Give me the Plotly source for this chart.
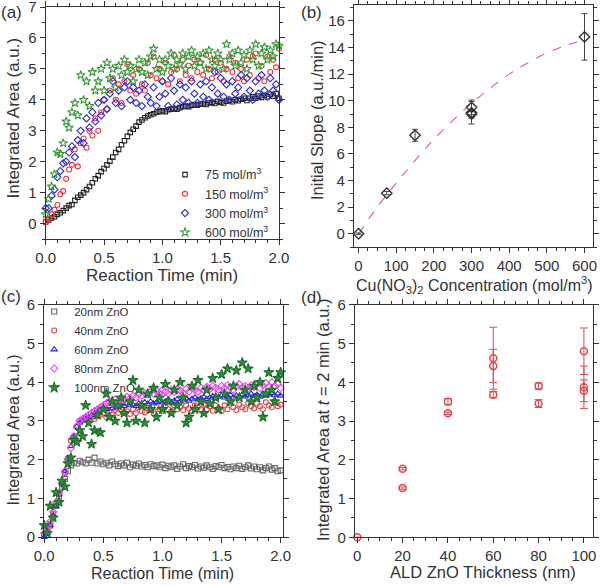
import plotly.graph_objects as go

# ---------------- data ----------------
TIME = [0.000, 0.025, 0.050, 0.075, 0.100, 0.125, 0.150, 0.175, 0.200, 0.225,
        0.250, 0.275, 0.300, 0.325, 0.350, 0.375, 0.400, 0.425, 0.450, 0.475,
        0.500, 0.525, 0.550, 0.575, 0.600, 0.625, 0.650, 0.675, 0.700, 0.725,
        0.750, 0.775, 0.800, 0.825, 0.850, 0.875, 0.900, 0.925, 0.950, 0.975,
        1.000, 1.025, 1.050, 1.075, 1.100, 1.125, 1.150, 1.175, 1.200, 1.225,
        1.250, 1.275, 1.300, 1.325, 1.350, 1.375, 1.400, 1.425, 1.450, 1.475,
        1.500, 1.525, 1.550, 1.575, 1.600, 1.625, 1.650, 1.675, 1.700, 1.725,
        1.750, 1.775, 1.800, 1.825, 1.850, 1.875, 1.900, 1.925, 1.950, 1.975,
        2.000]

# (a) concentration series
A_75 = [0.05, 0.12, 0.18, 0.22, 0.30, 0.35, 0.42, 0.50, 0.58, 0.62,
        0.75, 0.85, 0.92, 1.00, 1.10, 1.20, 1.32, 1.45, 1.55, 1.68,
        1.78, 1.90, 2.02, 2.15, 2.30, 2.40, 2.55, 2.68, 2.82, 2.95,
        3.05, 3.15, 3.28, 3.35, 3.42, 3.48, 3.52, 3.55, 3.60, 3.62,
        3.65, 3.62, 3.68, 3.70, 3.72, 3.70, 3.75, 3.78, 3.80, 3.78,
        3.82, 3.85, 3.83, 3.86, 3.88, 3.85, 3.90, 3.92, 3.88, 3.95,
        3.92, 3.90, 3.96, 3.98, 3.94, 4.00, 3.97, 4.02, 4.05, 3.98,
        4.05, 4.10, 4.05, 4.12, 4.08, 4.15, 4.10, 4.18, 4.12, 4.20,
        4.05]
A_150 = [0.05, 0.15, 0.30, 0.45, 0.60, 0.95, 1.05, 1.45, 1.75, 1.90,
         2.40, 1.85, 2.60, 2.75, 2.45, 3.00, 2.85, 3.40, 3.00, 3.60,
         4.00, 3.70, 4.30, 4.70, 4.00, 4.50, 3.90, 4.60, 5.15, 4.30,
         4.80, 4.20, 5.00, 4.50, 4.30, 5.20, 4.80, 5.40, 4.70, 5.00,
         4.60, 5.20, 4.50, 4.90, 5.45, 5.00, 4.60, 5.30, 4.80, 5.10,
         4.70, 5.30, 4.90, 5.20, 4.80, 5.45, 5.00, 4.70, 5.30, 4.90,
         5.20, 4.60, 5.00, 5.40, 4.90, 5.20, 4.70, 5.00, 4.60, 5.30,
         4.80, 5.40, 5.50, 4.70, 5.10, 4.60, 5.40, 4.90, 5.30, 5.05,
         5.65]
A_300 = [0.50, 0.50, 0.90, 1.10, 1.50, 1.70, 1.95, 2.00, 2.30, 2.50,
         2.15, 2.70, 3.00, 2.60, 3.40, 3.10, 3.60, 3.30, 3.90, 3.50,
         4.00, 3.70, 4.20, 4.60, 3.90, 4.30, 3.80, 4.40, 4.60, 4.00,
         4.40, 3.90, 4.30, 3.80, 4.50, 4.10, 3.90, 4.40, 3.80, 4.10,
         4.60, 4.20, 3.80, 4.70, 4.30, 3.85, 4.50, 4.00, 4.40, 3.90,
         4.60, 4.20, 3.90, 4.50, 4.10, 4.60, 4.00, 4.40, 4.90, 4.20,
         4.70, 4.10, 4.50, 4.00, 4.60, 4.20, 4.40, 4.80, 4.10, 4.70,
         4.30, 4.00, 4.60, 4.20, 4.80, 4.30, 4.10, 4.70, 4.30, 4.50,
         4.00]
A_600 = [0.30, 0.80, 1.20, 1.60, 2.30, 2.25, 2.60, 3.30, 3.10, 3.60,
         3.90, 3.50, 4.80, 4.00, 4.60, 3.80, 4.90, 4.30, 4.60, 5.00,
         4.30, 5.20, 4.70, 5.00, 4.40, 5.10, 4.80, 5.30, 4.90, 5.10,
         4.60, 5.00, 5.30, 4.90, 5.20, 4.80, 5.40, 5.65, 5.00, 5.30,
         4.90, 5.30, 5.10, 5.50, 5.00, 5.30, 5.15, 5.50, 5.00, 5.40,
         5.60, 5.10, 5.40, 5.20, 5.50, 5.00, 5.60, 5.30, 5.10, 5.50,
         5.30, 5.00, 5.80, 5.30, 5.50, 5.10, 5.60, 5.20, 5.45, 5.00,
         5.60, 5.30, 5.80, 5.10, 5.50, 5.70, 5.30, 5.60, 5.40, 5.80,
         5.75]
A_LABELS = ["75 mol/m<sup>3</sup>", "150 mol/m<sup>3</sup>",
            "300 mol/m<sup>3</sup>", "600 mol/m<sup>3</sup>"]

# (b) initial slope vs concentration
B_CONC = [0, 75, 150, 300, 300, 300, 600]
B_SLOPE = [0.0, 3.05, 7.4, 9.5, 9.1, 9.0, 14.8]
B_ERR = [0.05, 0.12, 0.45, 0.55, 0.85, 0.30, 1.75]
B_FIT_X = [0, 50, 100, 150, 200, 250, 300, 350, 400, 450, 500, 550, 600]
B_FIT_Y = [0.0, 2.0, 3.8, 5.5, 7.1, 8.5, 9.8, 10.95, 12.0, 12.85, 13.6, 14.15, 14.6]

# (c) ZnO thickness series
C_20 = [0.05, 0.12, 0.30, 0.55, 0.80, 1.05, 1.30, 1.50, 1.70, 1.85,
        1.92, 1.90, 1.97, 1.93, 1.90, 2.00, 1.92, 2.05, 1.90, 1.95,
        1.88, 1.92, 1.85, 1.95, 1.88, 1.83, 1.90, 1.85, 1.92, 1.80,
        1.87, 1.84, 1.90, 1.82, 1.86, 1.80, 1.88, 1.83, 1.85, 1.80,
        1.87, 1.78, 1.84, 1.80, 1.85, 1.76, 1.82, 1.88, 1.78, 1.83,
        1.80, 1.86, 1.77, 1.82, 1.79, 1.85, 1.80, 1.76, 1.83, 1.80,
        1.86, 1.78, 1.81, 1.75, 1.82, 1.78, 1.84, 1.76, 1.80, 1.85,
        1.77, 1.82, 1.75, 1.80, 1.72, 1.78, 1.82, 1.74, 1.78, 1.70,
        1.72]
C_40 = [0.05, 0.15, 0.35, 0.60, 0.85, 1.10, 1.35, 1.65, 2.00, 2.50,
        2.60, 2.85, 3.00, 3.05, 3.08, 3.02, 3.10, 3.05, 3.12, 3.15,
        3.20, 3.10, 3.25, 3.15, 3.28, 3.20, 3.30, 3.22, 3.25, 3.18,
        3.30, 3.20, 3.35, 3.25, 3.22, 3.32, 3.28, 3.20, 3.35, 3.30,
        3.25, 3.38, 3.30, 3.25, 3.40, 3.30, 3.35, 3.28, 3.40, 3.32,
        3.25, 3.40, 3.35, 3.30, 3.42, 3.30, 3.38, 3.26, 3.40, 3.32,
        3.25, 3.40, 3.30, 3.45, 3.35, 3.28, 3.42, 3.35, 3.30, 3.45,
        3.38, 3.32, 3.45, 3.38, 3.30, 3.48, 3.40, 3.35, 3.50, 3.38,
        3.42]
C_60 = [0.00, 0.10, 0.30, 0.55, 0.80, 1.10, 1.40, 1.70, 2.05, 2.35,
        2.60, 2.85, 2.95, 3.00, 3.05, 3.10, 3.15, 3.20, 3.25, 3.30,
        3.35, 3.30, 3.38, 3.32, 3.40, 3.35, 3.42, 3.38, 3.45, 3.40,
        3.42, 3.38, 3.45, 3.42, 3.48, 3.44, 3.50, 3.45, 3.48, 3.52,
        3.47, 3.50, 3.55, 3.48, 3.52, 3.56, 3.50, 3.55, 3.58, 3.52,
        3.57, 3.60, 3.55, 3.58, 3.62, 3.56, 3.60, 3.64, 3.58, 3.62,
        3.66, 3.60, 3.63, 3.67, 3.60, 3.65, 3.62, 3.68, 3.63, 3.66,
        3.70, 3.64, 3.68, 3.62, 3.70, 3.65, 3.68, 3.72, 3.66, 3.70,
        3.65]
C_80 = [0.10, 0.20, 0.40, 0.65, 0.90, 1.15, 1.40, 1.70, 2.00, 2.30,
        2.60, 2.85, 3.00, 3.05, 3.10, 3.15, 3.20, 3.25, 3.30, 3.35,
        3.40, 3.45, 3.50, 3.45, 3.55, 3.50, 3.58, 3.55, 3.62, 3.58,
        3.65, 3.60, 3.70, 3.65, 3.72, 3.68, 3.75, 3.70, 3.78, 3.72,
        3.80, 3.75, 3.70, 3.80, 3.75, 3.82, 3.78, 3.72, 3.82, 3.76,
        3.85, 3.80, 3.75, 3.85, 3.80, 3.88, 3.82, 3.90, 3.85, 3.80,
        3.90, 3.85, 3.92, 3.86, 3.80, 3.90, 3.95, 3.85, 3.90, 3.82,
        3.92, 3.88, 3.95, 3.85, 3.92, 3.98, 3.88, 4.00, 3.90, 3.95,
        3.85]
C_100 = [0.30, 0.10, 0.80, 0.50, 1.15, 0.90, 1.45, 1.30, 1.90, 2.05,
         2.50, 2.45, 2.75, 2.60, 3.40, 2.95, 2.40, 2.75, 3.15, 2.70,
         3.30, 3.70, 3.10, 3.50, 3.00, 3.40, 3.60, 3.20, 2.95, 3.50,
         4.05, 3.00, 3.80, 3.40, 2.95, 3.70, 3.30, 3.85, 3.10, 3.60,
         3.30, 3.95, 3.50, 3.20, 3.80, 3.40, 4.00, 3.60, 2.95, 3.10,
         3.90, 3.30, 4.05, 3.50, 3.20, 3.80, 3.45, 4.10, 3.60, 3.30,
         4.20, 3.70, 4.35, 3.50, 3.90, 4.30, 3.60, 4.50, 3.80, 4.35,
         3.50, 3.90, 3.60, 4.00, 3.10, 3.70, 4.25, 3.80, 3.50, 4.10,
         4.25]
C_LABELS = ["20nm ZnO", "40nm ZnO", "60nm ZnO", "80nm ZnO", "100nm ZnO"]

# (d) area at t = 2 min vs ALD thickness
D_THICK = [0, 20, 20, 40, 40, 60, 60, 60, 80, 80, 100, 100, 100]
D_AREA = [0.0, 1.77, 1.27, 3.50, 3.20, 4.62, 4.42, 3.68, 3.90, 3.45, 4.80, 3.87, 3.78]
D_ERR = [0.0, 0.03, 0.03, 0.08, 0.03, 0.80, 0.43, 0.08, 0.08, 0.10, 0.60, 0.55, 0.28]

# ---------------- style ----------------
FONT = "Liberation Sans, Arial, sans-serif"
INK = "#333333"

fig = go.Figure()

a_styles = [("square-open", "#222222", 4.5), ("circle-open", "#e8383d", 5),
            ("diamond-open", "#2a2ad8", 5.5), ("star-open", "#3a9a3a", 6.5)]
for ys, lab, (sym, col, sz) in zip([A_75, A_150, A_300, A_600], A_LABELS, a_styles):
    fig.add_trace(go.Scatter(x=TIME, y=ys, mode="markers", name=lab,
                             marker=dict(symbol=sym, color=col, size=sz, line=dict(width=1.1, color=col)),
                             xaxis="x", yaxis="y", legend="legend", cliponaxis=False))

fig.add_trace(go.Scatter(x=B_FIT_X, y=B_FIT_Y, mode="lines",
                         line=dict(color="#e06070", width=1.1, dash="dash", shape="spline"),
                         xaxis="x2", yaxis="y2", showlegend=False))
fig.add_trace(go.Scatter(x=B_CONC, y=B_SLOPE, mode="markers",
                         marker=dict(symbol="diamond-open", color="#333333", size=8, line=dict(width=1.4, color="#333333")),
                         error_y=dict(type="data", array=B_ERR, color="#444444", thickness=1, width=3),
                         xaxis="x2", yaxis="y2", showlegend=False, cliponaxis=False))

c_styles = [("square-open", "#6a6a6a", 5, "#6a6a6a"), ("circle-open", "#e0484c", 5, "#e0484c"),
            ("triangle-up-open", "#2a2ae0", 5.5, "#2a2ae0"), ("diamond-open", "#f040f0", 5.5, "#f040f0"),
            ("star", "#2f8f3a", 7.5, "#1f6f2a")]
for ys, lab, (sym, col, sz, lc) in zip([C_20, C_40, C_60, C_80, C_100], C_LABELS, c_styles):
    fig.add_trace(go.Scatter(x=TIME, y=ys, mode="markers", name=lab,
                             marker=dict(symbol=sym, color=col, size=sz, line=dict(width=1.1, color=lc)),
                             xaxis="x3", yaxis="y3", legend="legend2", cliponaxis=False))

fig.add_trace(go.Scatter(x=D_THICK, y=D_AREA, mode="markers",
                         marker=dict(symbol="circle-open", color="#e0474c", size=7, line=dict(width=1.5, color="#e0474c")),
                         error_y=dict(type="data", array=D_ERR, color="#e0474c", thickness=1, width=4),
                         xaxis="x4", yaxis="y4", showlegend=False, cliponaxis=False))


def ax(domain, rng, dtick, minor_dtick, anchor, fmt=None):
    d = dict(domain=domain, range=rng, dtick=dtick, anchor=anchor, automargin=False,
             ticklabeloverflow="allow",
             showline=True, linecolor=INK, linewidth=1.3, mirror="allticks",
             ticks="outside", ticklen=5, tickwidth=1.2, tickcolor=INK,
             showgrid=False, zeroline=False,
             tickfont=dict(family=FONT, size=15, color=INK),
             minor=dict(ticks="outside", ticklen=3, tickwidth=1, tickcolor=INK, dtick=minor_dtick, showgrid=False))
    if fmt:
        d["tickformat"] = fmt
    return d


fig.update_layout(
    width=600, height=586, margin=dict(l=0, r=0, t=0, b=0, autoexpand=False),
    paper_bgcolor="white", plot_bgcolor="white",
    font=dict(family=FONT, color=INK),
    xaxis=ax([0.0762, 0.465], [0, 2], 0.5, 0.1, "y", ".1f"),
    yaxis=ax([0.592, 0.988], [-0.5, 7], 1, 0.5, "x"),
    xaxis2=ax([0.59, 0.988], [-12, 622], 100, 25, "y2"),
    yaxis2=ax([0.5785, 0.9915], [-1, 17.2], 2, 1, "x2"),
    xaxis3=ax([0.0738, 0.4717], [0, 2.02], 0.5, 0.1, "y3", ".1f"),
    yaxis3=ax([0.0836, 0.48], [0, 6], 1, 0.5, "x3"),
    xaxis4=ax([0.5917, 0.9883], [-1, 104], 20, 5, "y4"),
    yaxis4=ax([0.0831, 0.48], [0, 6], 1, 0.5, "x4"),
    legend=dict(x=0.275, y=0.727, xanchor="left", yanchor="top", bgcolor="rgba(0,0,0,0)",
                font=dict(family=FONT, size=12.5, color=INK)),
    legend2=dict(x=0.057, y=0.4932, xanchor="left", yanchor="top", bgcolor="rgba(0,0,0,0)",
                 font=dict(family=FONT, size=11.5, color=INK)),
)

ann = []


def txt(x, y, s, size, angle=0):
    ann.append(dict(x=x / 600, y=1 - y / 586, xref="paper", yref="paper", text=s, showarrow=False,
                    xanchor="center", yanchor="middle", textangle=angle,
                    font=dict(family=FONT, size=size, color=INK)))


txt(11, 13, "(a)", 17)
txt(311, 13, "(b)", 17)
txt(11, 296, "(c)", 17)
txt(311, 297, "(d)", 17)
txt(162, 275, "Reaction Time (min)", 17)
txt(12.5, 118, "Integrated Area (a.u.)", 17, -90)
txt(474, 285, "Cu(NO<sub>3</sub>)<sub>2</sub> Concentration (mol/m<sup>3</sup>)", 16)
txt(317, 120, "Initial Slope (a.u./min)", 16.5, -90)
txt(162, 573, "Reaction Time (min)", 16)
txt(12.5, 430, "Integrated Area (a.u.)", 16, -90)
txt(483, 572, "ALD ZnO Thickness (nm)", 16.5)
txt(323, 420, "Integrated Area at <i>t</i> = 2 min (a.u.)", 16.5, -90)
fig.update_layout(annotations=ann)

fig.write_html("out.html", config={"displayModeBar": False},
               post_script="document.body.style.margin='0px';document.body.style.overflow='hidden';")
